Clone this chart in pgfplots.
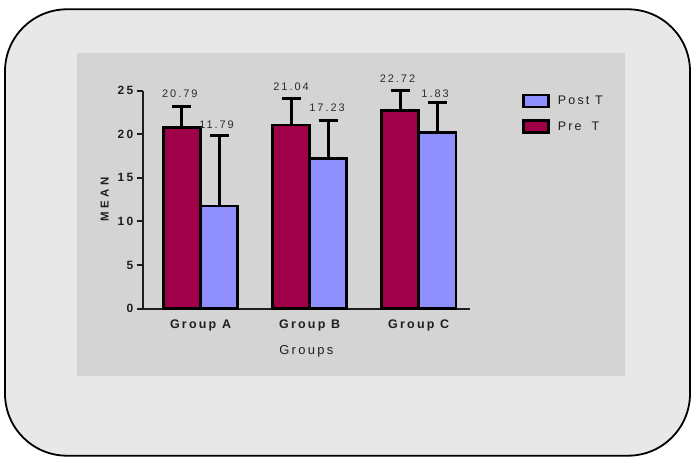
\documentclass[border=0pt]{standalone}
\usepackage{pgfplots}
\pgfplotsset{compat=1.18}
\usepackage{fontspec}
\setmainfont{Liberation Sans}
\newfontfamily\wide[LetterSpace=18]{Liberation Sans}
\newfontfamily\wider[LetterSpace=30]{Liberation Sans}

\definecolor{frame}{RGB}{232,232,232}
\definecolor{panel}{RGB}{212,212,212}
\definecolor{pre}{RGB}{160,0,72}
\definecolor{post}{RGB}{143,143,255}
\definecolor{ink}{RGB}{30,30,30}
\definecolor{lbl}{RGB}{45,45,45}

% Pre-test and post-test means per group, with upper error (SD);
% x is the bar centre: group index -/+ half a bar width
\pgfplotstableread{
x      mean   err
-0.17  20.79  2.38
 0.83  21.04  3.01
 1.83  22.72  2.28
}\pretest
\pgfplotstableread{
x      mean   err
 0.17  11.79  8.09
 1.17  17.23  4.30
 2.17  20.18  3.49
}\posttest

\pgfplotsset{
  meanbar/.style={ybar, bar width=37bp, bar shift=0pt, fill=#1, draw=black, line width=2.5bp,
    legend image code/.code={\draw[fill=#1, draw=black, line width=2.5bp] (0bp,-6bp) rectangle (25bp,6bp);},
    error bars/.cd, y dir=plus, y explicit,
      error bar style={line width=3bp, black},
      error mark options={line width=3bp, black, mark size=9.5bp, rotate=90}},
}

\begin{document}
\begin{tikzpicture}[x=1bp,y=1bp]
\useasboundingbox (0,0) rectangle (692,457);
\fill[white] (0,0) rectangle (692,457);
% card and plotting panel
\draw[line width=1.8bp, fill=frame, rounded corners=62bp] (5,1.3) rectangle (690,447.7);
\fill[panel] (76.7,81) rectangle (625,403.7);

\begin{axis}[
  at={(142.7bp,148.3bp)}, anchor=south west,
  scale only axis, width=327.3bp, height=218bp,
  xmin=-0.53, xmax=2.47, ymin=0, ymax=25,
  clip=false,
  axis x line*=bottom, axis y line*=left,
  axis line style={line width=2bp, ink, -},
  ytick={0,5,10,15,20,25},
  xtick={0,1,2},
  xticklabels={Group A, Group B, Group C},
  tick align=outside,
  major tick length=6bp,
  y tick style={line width=2bp, ink},
  x tick style={draw=none},
  /pgf/number format/assume math mode=true,
  yticklabel style={font=\wide\bfseries\fontsize{12}{12}\selectfont, text=ink},
  xticklabel style={font=\wide\bfseries\fontsize{12.5}{13}\selectfont, text=ink, yshift=-2bp},
  xlabel={Groups},
  xlabel style={at={(axis description cs:0.5,0)}, anchor=center, yshift=-43bp,
    font=\wide\fontsize{13}{14}\selectfont, text=ink},
  ylabel={MEAN},
  ylabel style={at={(axis description cs:0,0.5)}, anchor=center, yshift=38bp,
    font=\wider\bfseries\fontsize{11.5}{12}\selectfont, text=ink},
  legend style={draw=none, fill=none, at={(1.15,0.995)}, anchor=north west,
    font=\wide\fontsize{12.5}{14}\selectfont, text=ink, row sep=11bp,
    nodes={inner xsep=8bp}},
  legend cell align=left,
  reverse legend,
]
\addplot[meanbar=pre] table[x=x, y=mean, y error=err] {\pretest};
\addlegendentry{Pre\hspace{10bp}T}
\addplot[meanbar=post] table[x=x, y=mean, y error=err] {\posttest};
\addlegendentry{Post T}

% value labels above the error bars
\begin{scope}[every node/.style={font=\wide\fontsize{11}{11}\selectfont, text=lbl}]
\node at (axis cs:-0.19,24.6) {20.79};
\node at (axis cs:0.147,21.07) {11.79};
\node at (axis cs:0.83,25.5) {21.04};
\node at (axis cs:1.16,23.05) {17.23};
\node at (axis cs:1.805,26.4) {22.72};
\node at (axis cs:2.15,24.6) {1.83};
\end{scope}
\end{axis}
\end{tikzpicture}
\end{document}
